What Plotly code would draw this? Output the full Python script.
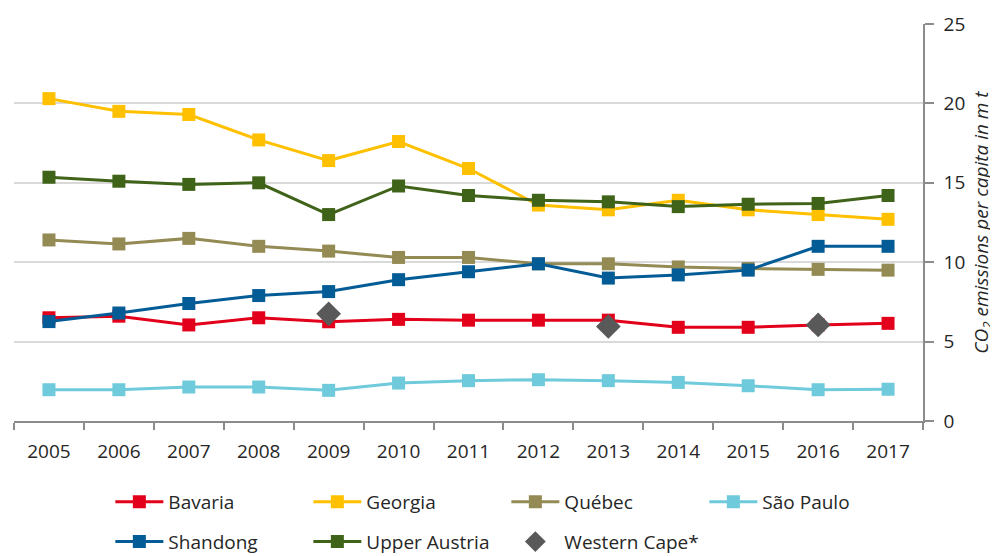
import plotly.graph_objects as go

years = [str(y) for y in range(2005, 2018)]

bavaria = [6.5, 6.6, 6.05, 6.5, 6.25, 6.4, 6.35, 6.35, 6.35, 5.9, 5.9, 6.05, 6.15]
georgia = [20.3, 19.5, 19.3, 17.7, 16.4, 17.6, 15.9, 13.6, 13.3, 13.9, 13.3, 13.0, 12.7]
quebec = [11.4, 11.15, 11.5, 11.0, 10.7, 10.3, 10.3, 9.9, 9.9, 9.7, 9.6, 9.55, 9.5]
sao_paulo = [1.97, 1.97, 2.14, 2.14, 1.93, 2.39, 2.54, 2.6, 2.54, 2.43, 2.22, 1.97, 2.0]
shandong = [6.26, 6.8, 7.4, 7.9, 8.15, 8.9, 9.4, 9.9, 9.0, 9.2, 9.5, 11.0, 11.0]
upper_austria = [15.35, 15.1, 14.9, 15.0, 13.0, 14.8, 14.2, 13.9, 13.8, 13.5, 13.65, 13.7, 14.2]
western_cape = [None, None, None, None, 6.75, None, None, None, 5.95, None, None, 6.05, None]

lines = [
    ("Bavaria", bavaria, "#e2001a", "legend"),
    ("Georgia", georgia, "#ffc000", "legend"),
    ("Québec", quebec, "#948a54", "legend"),
    ("São Paulo", sao_paulo, "#6fcadc", "legend"),
    ("Shandong", shandong, "#045c96", "legend2"),
    ("Upper Austria", upper_austria, "#40631a", "legend2"),
]

fig = go.Figure()
for name, vals, color, leg in lines:
    fig.add_trace(go.Scatter(
        x=years, y=vals, name=name, mode="lines+markers",
        line=dict(color=color, width=3),
        marker=dict(symbol="square", size=13, color=color),
        legend=leg,
    ))

fig.add_trace(go.Scatter(
    x=years, y=western_cape, name="Western Cape*", mode="markers",
    marker=dict(symbol="diamond", size=19, color="#595959"),
    legend="legend2",
))

font = dict(family="Open Sans", size=19, color="#262626")
leg_common = dict(
    orientation="h", xanchor="left", yanchor="middle",
    font=font, entrywidth=135, entrywidthmode="pixels",
    itemwidth=48, bgcolor="rgba(0,0,0,0)", traceorder="normal",
)

# page body has an 8px margin, so the figure is 8px smaller than the window
fig.update_layout(
    width=990, height=548,
    margin=dict(l=6, r=75, t=16, b=135, autoexpand=False),
    paper_bgcolor="white", plot_bgcolor="white",
    font=font,
    showlegend=True,
    legend=dict(x=0.106, y=-0.204, **leg_common),
    legend2=dict(x=0.106, y=-0.304, **leg_common),
)

fig.update_xaxes(
    type="category", range=[-0.5, 12.5],
    showline=True, linecolor="#8c8c8c", linewidth=1.5,
    ticks="outside", tickson="boundaries", ticklen=7, tickcolor="#8c8c8c", tickwidth=1.5,
    showgrid=False, tickfont=font, zeroline=False, ticklabelstandoff=12,
)
fig.update_yaxes(
    side="right", range=[0, 25], dtick=5,
    showline=True, linecolor="#8c8c8c", linewidth=1.5,
    ticks="outside", ticklen=9, tickcolor="#8c8c8c", tickwidth=1.5,
    showgrid=True, gridcolor="#d9d9d9", gridwidth=1.5,
    zeroline=False, tickfont=font, ticklabelstandoff=6,
    title=dict(text="<i>CO<sub>2</sub> emissions per capita in m t</i>",
               font=dict(family="Open Sans", size=19, color="#262626"), standoff=10),
)

fig.write_html("out.html")
